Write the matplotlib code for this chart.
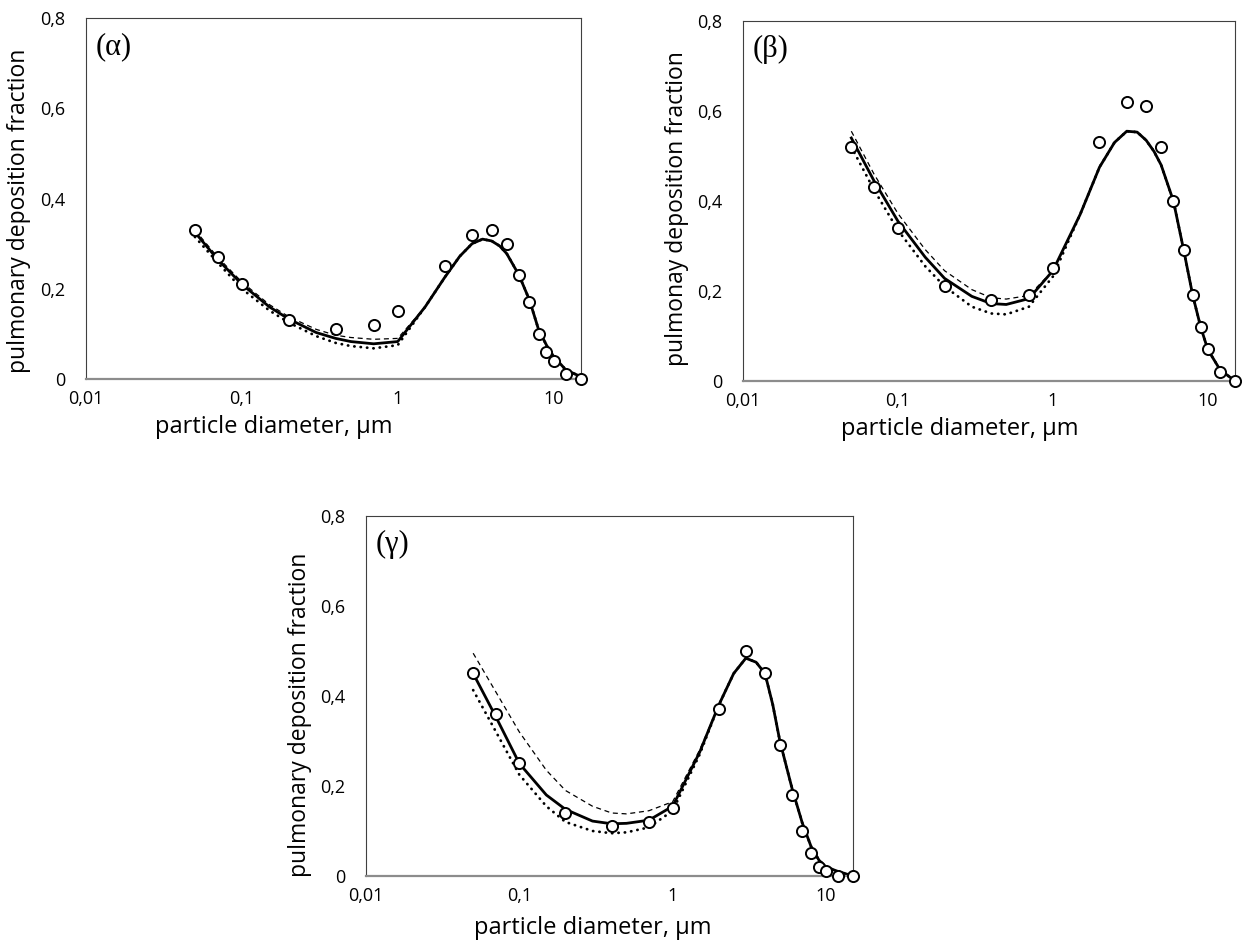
import numpy as np
import matplotlib
matplotlib.use("Agg")
import matplotlib.pyplot as plt

plt.rcParams["font.family"] = ["Open Sans", "DejaVu Sans"]

# measured points (same diameters in all three panels)
x_obs = [0.05, 0.07, 0.1, 0.2, 0.4, 0.7, 1, 2, 3, 4, 5, 6, 7, 8, 9, 10, 12, 15]
alpha_obs = [0.33, 0.27, 0.21, 0.13, 0.11, 0.12, 0.15, 0.25, 0.32, 0.33, 0.30, 0.23, 0.17, 0.10, 0.06, 0.04, 0.01, 0.0]
beta_obs = [0.52, 0.43, 0.34, 0.21, 0.18, 0.19, 0.25, 0.53, 0.62, 0.61, 0.52, 0.40, 0.29, 0.19, 0.12, 0.07, 0.02, 0.0]
gamma_obs = [0.45, 0.36, 0.25, 0.14, 0.11, 0.12, 0.15, 0.37, 0.50, 0.45, 0.29, 0.18, 0.10, 0.05, 0.02, 0.01, 0.0, 0.0]

# model curves
x_fit = [0.05, 0.07, 0.1, 0.15, 0.2, 0.3, 0.4, 0.5, 0.7, 1, 1.5, 2, 2.5, 3, 3.5, 4, 4.5, 5, 6, 7, 8, 9, 10, 12, 15]

alpha_solid = [0.325, 0.265, 0.21, 0.16, 0.133, 0.103, 0.09, 0.083, 0.078, 0.083, 0.16, 0.225, 0.272, 0.300, 0.310, 0.306, 0.295, 0.278, 0.23, 0.175, 0.11, 0.075, 0.05, 0.02, 0.005]
alpha_dash = [0.33, 0.27, 0.215, 0.165, 0.138, 0.11, 0.097, 0.092, 0.088, 0.09, 0.16, 0.225, 0.272, 0.300, 0.310, 0.306, 0.295, 0.278, 0.23, 0.175, 0.11, 0.075, 0.05, 0.02, 0.005]
alpha_dot = [0.315, 0.258, 0.2, 0.152, 0.125, 0.095, 0.08, 0.073, 0.068, 0.075, 0.16, 0.225, 0.272, 0.300, 0.310, 0.306, 0.295, 0.278, 0.23, 0.175, 0.11, 0.075, 0.05, 0.02, 0.005]

beta_solid = [0.54, 0.445, 0.355, 0.275, 0.228, 0.188, 0.172, 0.17, 0.183, 0.245, 0.37, 0.475, 0.53, 0.555, 0.553, 0.535, 0.51, 0.48, 0.40, 0.29, 0.19, 0.12, 0.07, 0.025, 0.0]
beta_dash = [0.555, 0.46, 0.372, 0.292, 0.245, 0.203, 0.185, 0.182, 0.19, 0.245, 0.37, 0.475, 0.53, 0.555, 0.553, 0.535, 0.51, 0.48, 0.40, 0.29, 0.19, 0.12, 0.07, 0.025, 0.0]
beta_dot = [0.52, 0.425, 0.335, 0.255, 0.21, 0.165, 0.15, 0.148, 0.165, 0.232, 0.37, 0.475, 0.53, 0.555, 0.553, 0.535, 0.51, 0.48, 0.40, 0.29, 0.19, 0.12, 0.07, 0.025, 0.0]

gamma_solid = [0.45, 0.355, 0.25, 0.18, 0.148, 0.122, 0.116, 0.117, 0.124, 0.155, 0.275, 0.38, 0.45, 0.484, 0.475, 0.45, 0.38, 0.30, 0.195, 0.118, 0.065, 0.035, 0.02, 0.01, 0.0]
gamma_dash = [0.495, 0.41, 0.32, 0.235, 0.19, 0.155, 0.14, 0.138, 0.145, 0.165, 0.28, 0.38, 0.45, 0.484, 0.475, 0.45, 0.38, 0.30, 0.195, 0.118, 0.065, 0.035, 0.02, 0.01, 0.0]
gamma_dot = [0.413, 0.322, 0.225, 0.155, 0.12, 0.1, 0.095, 0.097, 0.108, 0.145, 0.27, 0.38, 0.45, 0.484, 0.475, 0.45, 0.38, 0.30, 0.195, 0.118, 0.065, 0.035, 0.02, 0.01, 0.0]

x_ticks = [0.01, 0.1, 1, 10]
x_ticklabels = ["0,01", "0,1", "1", "10"]
y_ticks = [0, 0.2, 0.4, 0.6, 0.8]
y_ticklabels = ["0", "0,2", "0,4", "0,6", "0,8"]


def panel(ax, obs, solid, dash, dot, tag, ylabel, xlab_pos, ylab_pos):
    ax.plot(x_fit, dash, color="black", linestyle=(0, (4, 3)), linewidth=0.9)
    ax.plot(x_fit, dot, color="black", linestyle=(0, (0.1, 2.2)), linewidth=2.0,
            dash_capstyle="round")
    ax.plot(x_fit, solid, color="black", linewidth=2.0)
    ax.plot(x_obs, obs, linestyle="none", marker="o", markersize=8,
            markerfacecolor="white", markeredgecolor="black", markeredgewidth=1.4,
            clip_on=False, zorder=5)
    ax.set_xscale("log")
    ax.set_xlim(0.01, 15)
    ax.set_ylim(0, 0.8)
    ax.set_xticks(x_ticks)
    ax.set_xticklabels(x_ticklabels)
    ax.minorticks_off()
    ax.set_yticks(y_ticks)
    ax.set_yticklabels(y_ticklabels)
    ax.tick_params(length=0, labelsize=13)
    ax.tick_params(axis="x", pad=8)
    ax.tick_params(axis="y", pad=15)
    for s in ["top", "left", "right"]:
        ax.spines[s].set_color("#404040")
        ax.spines[s].set_linewidth(0.8)
    ax.spines["bottom"].set_color("#8c8c8c")
    ax.spines["bottom"].set_linewidth(1.6)
    ax.set_xlabel("particle diameter, μm", fontsize=17)
    ax.set_ylabel(ylabel, fontsize=16.5)
    ax.xaxis.set_label_coords(*xlab_pos)
    ax.yaxis.set_label_coords(*ylab_pos)
    ax.text(0.02, 0.92, tag, transform=ax.transAxes, fontsize=22, va="center", ha="left",
            family=["Liberation Serif", "DejaVu Serif"])


fig = plt.figure(figsize=(12.44, 9.40), dpi=100)
ax1 = fig.add_axes([0.0691, 0.5968, 0.398, 0.384])
ax2 = fig.add_axes([0.5973, 0.5947, 0.3955, 0.383])
ax3 = fig.add_axes([0.2942, 0.0681, 0.3915, 0.383])

panel(ax1, alpha_obs, alpha_solid, alpha_dash, alpha_dot, "(α)",
      "pulmonary deposition fraction", (0.38, -0.1), (-0.112, 0.465))
panel(ax2, beta_obs, beta_solid, beta_dash, beta_dot, "(β)",
      "pulmonay deposition fraction", (0.44, -0.1), (-0.11, 0.48))
panel(ax3, gamma_obs, gamma_solid, gamma_dash, gamma_dot, "(γ)",
      "pulmonary deposition fraction", (0.465, -0.11), (-0.11, 0.447))

fig.savefig("out.png", dpi=100)
